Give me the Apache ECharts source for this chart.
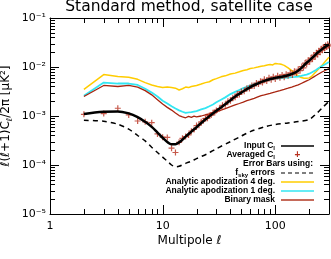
<!DOCTYPE html>
<html><head><meta charset="utf-8">
<script src="https://cdn.jsdelivr.net/npm/echarts@6/dist/echarts.min.js"></script>
<style>html,body{margin:0;padding:0;background:#fff}#c{width:331px;height:259px}</style>
</head><body><div id="c"></div>
<script>
// ---- data ----
const ellInput = [2,3,4,5,6,7,8,9,10,11,12,13,14,15,16,18,20,22,25,30,35,40,45,50,60,70,80,90,100,120,140,155,170,185,200,220,240,260,280,300];
const clInput = [1.1e-3,1.22e-3,1.24e-3,1.13e-3,9.5e-4,7.6e-4,6.0e-4,4.6e-4,3.6e-4,2.95e-4,2.65e-4,2.65e-4,2.9e-4,3.3e-4,3.8e-4,4.8e-4,5.9e-4,7.2e-4,9.2e-4,1.28e-3,1.65e-3,2.1e-3,2.6e-3,3.0e-3,3.9e-3,4.6e-3,5.2e-3,5.7e-3,6.0e-3,6.5e-3,7.2e-3,8.0e-3,9.5e-3,1.15e-2,1.35e-2,1.65e-2,2.0e-2,2.3e-2,2.6e-2,2.85e-2];

const ellAvg = [2,3,4,5,6,7,8,9,10,11,12,13,14,15,16,17,18,19,20,21,22,23,24,25,26,27,28,29,30,32,34,36,38,40,42,44,46,48,50,53,56,59,62,65,68,71,74,77,80,84,88,92,96,100,105,110,115,120,125,130,136,142,148,154,160,166,172,178,184,190,196,202,208,214,220,226,232,238,244,250,256,262,268,274,280,286,292,298];
const clAvg = [1.08e-3,1.12e-3,1.44e-3,1.05e-3,7.9e-4,7.6e-4,7.3e-4,4.3e-4,3.7e-4,3.65e-4,2.2e-4,1.8e-4,2.9e-4,3.5e-4,3.8e-4,4.1e-4,4.9e-4,5.3e-4,6.4e-4,6.5e-4,7.6e-4,8.0e-4,8.9e-4,9.0e-4,1.02e-3,1.05e-3,1.16e-3,1.18e-3,1.3e-3,1.42e-3,1.65e-3,1.7e-3,2.0e-3,2.05e-3,2.35e-3,2.4e-3,2.8e-3,2.75e-3,3.15e-3,3.2e-3,3.7e-3,3.65e-3,4.2e-3,4.1e-3,4.7e-3,4.5e-3,5.1e-3,4.8e-3,5.6e-3,5.2e-3,6.0e-3,5.5e-3,6.3e-3,5.7e-3,6.6e-3,6.0e-3,6.9e-3,6.2e-3,7.1e-3,6.6e-3,7.6e-3,6.9e-3,8.2e-3,7.5e-3,9.0e-3,8.4e-3,1.02e-2,9.6e-3,1.2e-2,1.14e-2,1.38e-2,1.28e-2,1.52e-2,1.45e-2,1.75e-2,1.62e-2,1.95e-2,1.8e-2,2.15e-2,2.0e-2,2.35e-2,2.2e-2,2.55e-2,2.38e-2,2.75e-2,2.55e-2,2.9e-2,2.7e-2];

const ellFsky = [2,3,4,5,6,7,8,9,10,11,12,13,14,16,18,20,25,30,40,50,60,80,100,130,160,200,230,260,300];
const errFsky = [8.2e-4,7.8e-4,6.8e-4,5.4e-4,4.0e-4,3.1e-4,2.3e-4,1.8e-4,1.45e-4,1.2e-4,1.0e-4,9.2e-5,9.4e-5,1.08e-4,1.2e-4,1.35e-4,1.7e-4,2.15e-4,3.0e-4,3.9e-4,4.8e-4,6.0e-4,6.7e-4,7.2e-4,7.7e-4,8.5e-4,1.1e-3,1.45e-3,2.0e-3];

const ellApo4 = [2,3,4,5,6,7,8,9,10,11,12,13,14,15,16,17,18,20,22,24,26,28,30,33,36,40,44,48,52,56,60,65,70,75,80,85,90,95,100,105,110,115,120,125,130,135,140,145,150,155,160,165,170,175,180,190,200,210,220,230,240,250,260,270,280,290,300];
const errApo4 = [3.5e-3,7.0e-3,6.4e-3,6.2e-3,5.6e-3,4.8e-3,4.3e-3,4.0e-3,3.8e-3,3.9e-3,3.8e-3,3.7e-3,3.4e-3,3.6e-3,3.9e-3,3.8e-3,4.0e-3,4.2e-3,4.5e-3,4.8e-3,5.0e-3,5.5e-3,5.8e-3,6.3e-3,6.6e-3,7.2e-3,7.5e-3,8.0e-3,8.5e-3,8.8e-3,9.3e-3,9.6e-3,1.0e-2,1.04e-2,1.06e-2,1.1e-2,1.12e-2,1.1e-2,1.18e-2,1.16e-2,1.15e-2,1.12e-2,1.08e-2,1.02e-2,9.6e-3,9.0e-3,8.4e-3,7.9e-3,7.4e-3,7.0e-3,6.6e-3,6.3e-3,6.1e-3,6.0e-3,5.9e-3,5.9e-3,6.0e-3,6.4e-3,7.2e-3,8.0e-3,8.9e-3,9.8e-3,1.08e-2,1.18e-2,1.32e-2,1.45e-2,1.58e-2];

const ellApo1 = [2,3,4,5,6,7,8,9,10,11,12,13,14,15,16,17,18,20,22,24,26,28,30,33,36,40,44,48,52,56,60,65,70,75,80,90,100,110,120,130,140,150,160,170,180,190,200,210,220,230,240,250,260,270,280,290,300];
const errApo1 = [2.6e-3,4.8e-3,4.6e-3,4.6e-3,4.3e-3,3.6e-3,3.0e-3,2.5e-3,2.05e-3,1.8e-3,1.58e-3,1.42e-3,1.3e-3,1.22e-3,1.16e-3,1.18e-3,1.2e-3,1.26e-3,1.36e-3,1.45e-3,1.58e-3,1.72e-3,1.9e-3,2.15e-3,2.4e-3,2.8e-3,3.1e-3,3.4e-3,3.7e-3,3.95e-3,4.2e-3,4.5e-3,4.8e-3,5.0e-3,5.2e-3,5.5e-3,5.8e-3,5.9e-3,6.0e-3,6.1e-3,6.2e-3,6.3e-3,6.4e-3,6.6e-3,6.8e-3,7.0e-3,7.3e-3,7.7e-3,8.2e-3,8.7e-3,9.3e-3,9.9e-3,1.05e-2,1.1e-2,1.15e-2,1.2e-2,1.26e-2];

const ellBin = [2,3,4,5,6,7,8,9,10,11,12,13,14,15,16,17,18,19,20,22,24,26,28,30,33,36,40,44,48,52,56,60,65,70,75,80,90,100,110,120,130,140,150,160,170,180,190,200,210,220,230,240,250,260,270,280,290,300];
const errBin = [2.5e-3,4.2e-3,4.0e-3,4.2e-3,3.9e-3,3.3e-3,2.7e-3,2.15e-3,1.75e-3,1.5e-3,1.32e-3,1.15e-3,1.02e-3,9.6e-4,9.2e-4,9.8e-4,9.4e-4,9.9e-4,9.6e-4,1.0e-3,1.06e-3,1.1e-3,1.18e-3,1.22e-3,1.32e-3,1.42e-3,1.55e-3,1.68e-3,1.8e-3,1.92e-3,2.05e-3,2.15e-3,2.3e-3,2.45e-3,2.6e-3,2.7e-3,2.9e-3,3.1e-3,3.3e-3,3.5e-3,3.7e-3,3.9e-3,4.1e-3,4.3e-3,4.6e-3,4.9e-3,5.2e-3,5.5e-3,5.9e-3,6.3e-3,6.7e-3,7.1e-3,7.5e-3,7.9e-3,8.3e-3,8.6e-3,8.9e-3,9.3e-3];

const xTickLabels = [1, 10, 100];            // ell
const yTickExponents = [-5, -4, -3, -2, -1];  // powers of ten

// ---- helpers ----
const pairs = (xs, ys) => xs.map((x, i) => [x, ys[i]]);
const supDigits = {'-':'⁻','0':'⁰','1':'¹','2':'²','3':'³','4':'⁴','5':'⁵','6':'⁶','7':'⁷','8':'⁸','9':'⁹'};
const yFmt = v => '10' + String(Math.round(v)).split('').map(c => supDigits[c]).join('');
const X_MIN = 1, X_MAX = 300, Y_MIN = 1e-5, Y_MAX = 1e-1;
const lxMin = Math.log10(X_MIN), lxMax = Math.log10(X_MAX), lyMin = Math.log10(Y_MIN), lyMax = Math.log10(Y_MAX);
const xMajorL = xTickLabels.map(v => Math.log10(v));
const GRID = { left: 50, right: 2, top: 18, bottom: 45 };
const CW = 331, CH = 259;

// tick marks: [value, length px]
const MAJ = 9, MIN_LEN = 5;
const xTicks = [];
[1, 10, 100].forEach(d => { for (let k = 1; k <= 9; k++) { if (k * d <= X_MAX) xTicks.push([k * d, k === 1 ? MAJ : MIN_LEN]); } });
const yTicks = [];
[1e-5, 1e-4, 1e-3, 1e-2].forEach(d => { for (let k = 1; k <= 9; k++) yTicks.push([k * d, k === 1 ? MAJ : MIN_LEN]); });
yTicks.push([1e-1, MAJ]);

const FONT = 'DejaVu Sans';
const tAxis = (pos, mn, mx, showLine, labels) => ({
  type: 'value', position: pos, min: mn, max: mx,
  axisLine: { show: showLine, onZero: false, lineStyle: { color: '#000', width: 1 } },
  axisTick: { show: false },
  axisLabel: labels || { show: false },
  splitLine: { show: false }
});
const hiddenLog = (pos, mn, mx) => ({
  type: 'log', logBase: 10, position: pos, min: mn, max: mx,
  axisLine: { show: false }, axisTick: { show: false }, axisLabel: { show: false }, splitLine: { show: false }
});

const xLab = tAxis('bottom', lxMin, lxMax, true, { show: true, customValues: xMajorL, formatter: v => String(Math.round(Math.pow(10, v))), color: '#000', fontFamily: FONT, fontSize: 11, margin: 7 });
Object.assign(xLab, { name: 'Multipole ℓ', nameLocation: 'middle', nameGap: 21, nameMoveOverlap: false, nameTextStyle: { color: '#000', fontFamily: FONT, fontSize: 12 } });
const yLab = tAxis('left', lyMin, lyMax, true, { show: true, customValues: yTickExponents, formatter: yFmt, color: '#000', fontFamily: FONT, fontSize: 11, margin: 4 });
Object.assign(yLab, { name: 'ℓ(ℓ+1)C{sub|ℓ}/2π [μK²]', nameLocation: 'middle', nameGap: 36, nameMoveOverlap: false,
  nameTextStyle: { color: '#000', fontFamily: FONT, fontSize: 12, lineHeight: 16, rich: { sub: { fontFamily: FONT, fontSize: 8, lineHeight: 16, verticalAlign: 'bottom', color: '#000' } } } });

const chart = echarts.init(document.getElementById('c'), null, { renderer: 'canvas' });
const legendX = 275, sampleX0 = 281, sampleX1 = 314;
const lf = () => ({ fontFamily: 'Liberation Sans', fontWeight: 'bold', fontSize: 8.5 });
const subRich = () => ({ s: Object.assign(lf(), { fontSize: 6, padding: [4, 0, 0, 0], fill: '#000' }) });
const legText = (t, y, rich, rightX) => ({
  type: 'text', silent: true, z: 100,
  style: Object.assign({ text: t, x: rightX || legendX, y: y, align: 'right', verticalAlign: 'middle', fill: '#000',
    rich: rich || {} }, lf())
});
const legLine = (y, color, dash, w) => ({
  type: 'line', silent: true, z: 100,
  shape: { x1: sampleX0, y1: y, x2: sampleX1, y2: y },
  style: { stroke: color, lineWidth: w || 1.5, lineDash: dash || null }
});
const legendEls = [
  legText('Input C{s|l}', 146, subRich()), legLine(146, '#000', null, 1.5),
  legText('Averaged C{s|l}', 155, subRich()),
  { type: 'text', silent: true, z: 100, style: Object.assign({ text: '+', x: 297.5, y: 155, align: 'center', verticalAlign: 'middle', fill: '#b8301e' }, lf(), { fontSize: 10 }) },
  legText('Error Bars using:', 164, null, 313),
  legText('f{s|sky} errors', 173, subRich()), legLine(173, '#000', [4, 3], 1.2),
  legText('Analytic apodization 4 deg.', 182), legLine(182, '#ffcc00', null, 1.5),
  legText('Analytic apodization 1 deg.', 191), legLine(191, '#33e6f2', null, 1.5),
  legText('Binary mask', 200), legLine(200, '#c66a5a', null, 2)
];

// tick marks on all four sides, placed from the grid geometry and log scale
const gL = GRID.left, gR = CW - GRID.right, gT = GRID.top, gB = CH - GRID.bottom;
const xPix = v => gL + (gR - gL) * (Math.log10(v) - lxMin) / (lxMax - lxMin);
const yPix = v => gB - (gB - gT) * (Math.log10(v) - lyMin) / (lyMax - lyMin);
const tickEls = [];
const tl = (x1, y1, x2, y2) => ({ type: 'line', silent: true, z: 50, shape: { x1: x1, y1: y1, x2: x2, y2: y2 }, style: { stroke: '#000', lineWidth: 1 } });
xTicks.forEach(([v, len]) => {
  const x = Math.round(xPix(v)) + 0.5;
  tickEls.push(tl(x, gB, x, gB - len));
  tickEls.push(tl(x, gT, x, gT + len));
});
yTicks.forEach(([v, len]) => {
  const y = Math.round(yPix(v)) + 0.5;
  tickEls.push(tl(gL, y, gL + len, y));
  tickEls.push(tl(gR, y, gR - len, y));
});

chart.setOption({
  animation: false,
  backgroundColor: '#fff',
  title: { text: 'Standard method, satellite case', left: 189, top: -1, textAlign: 'center', padding: 0,
    textStyle: { fontFamily: FONT, fontSize: 15.5, fontWeight: 'normal', color: '#000' } },
  grid: Object.assign({ containLabel: false, outerBoundsMode: 'none' }, GRID),
  xAxis: [ hiddenLog('bottom', X_MIN, X_MAX), xLab, tAxis('top', lxMin, lxMax, true) ],
  yAxis: [ hiddenLog('left', Y_MIN, Y_MAX), yLab, tAxis('right', lyMin, lyMax, true) ],
  series: [
    { type: 'line', name: 'Analytic apodization 4 deg.', data: pairs(ellApo4, errApo4), showSymbol: false, lineStyle: { color: '#ffcc00', width: 1.5 }, z: 2 },
    { type: 'line', name: 'Analytic apodization 1 deg.', data: pairs(ellApo1, errApo1), showSymbol: false, lineStyle: { color: '#33e6f2', width: 1.8 }, z: 3 },
    { type: 'line', name: 'Binary mask', data: pairs(ellBin, errBin), showSymbol: false, lineStyle: { color: '#a8240f', width: 1.3 }, z: 4 },
    { type: 'line', name: 'f_sky errors', data: pairs(ellFsky, errFsky), showSymbol: false, smooth: 0.3, lineStyle: { color: '#000', width: 1.5, type: [5, 4] }, z: 5 },
    { type: 'scatter', name: 'Averaged C_l', data: pairs(ellAvg, clAvg), symbol: 'path://M4,0h2v4h4v2h-4v4h-2v-4h-4v-2h4z', symbolSize: 6, itemStyle: { color: '#b8301e' }, z: 6 },
    { type: 'line', name: 'Input C_l', data: pairs(ellInput, clInput), showSymbol: false, smooth: 0.4, lineStyle: { color: '#000', width: 2.5 }, z: 7 }
  ],
  graphic: legendEls.concat(tickEls)
});
</script></body></html>
